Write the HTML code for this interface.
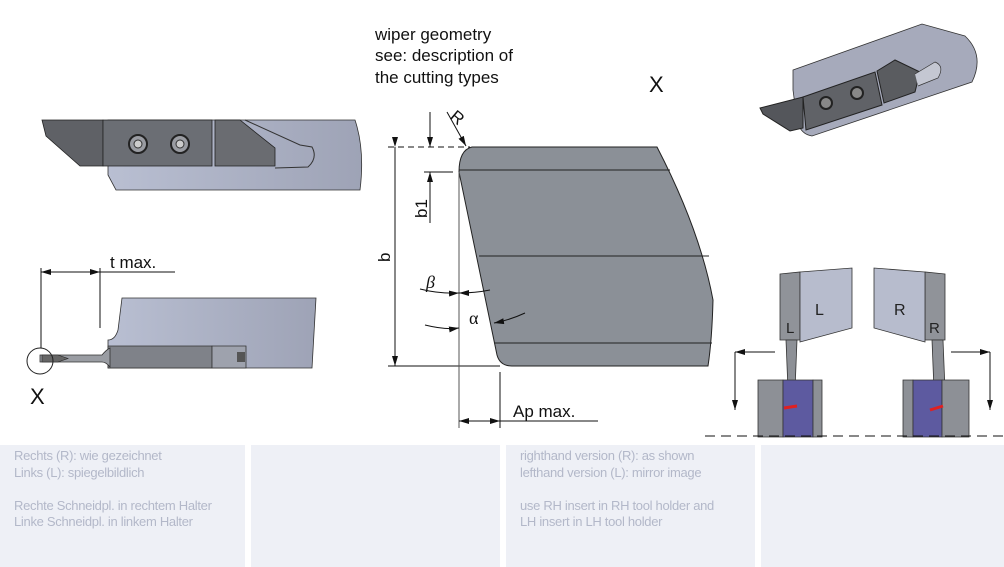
<!DOCTYPE html>
<html><head><meta charset="utf-8"><style>
body{margin:0;width:1004px;height:567px;background:#fff;overflow:hidden;font-family:"Liberation Sans",sans-serif;position:relative}
.p{position:absolute;top:445px;height:122px;background:#eef0f6;color:#b3b8c9;font-size:13px;line-height:16.5px;padding:3px 0 0 14px;box-sizing:border-box;letter-spacing:-0.3px}
svg{position:absolute;left:0;top:0}
</style></head><body>
<svg width="1004" height="567" viewBox="0 0 1004 567" font-family="Liberation Sans, sans-serif">
<defs>
<marker id="a" markerWidth="10" markerHeight="6" refX="10" refY="3" orient="auto" markerUnits="userSpaceOnUse"><path d="M0,0L10,3L0,6z" fill="#111"/></marker>
<linearGradient id="g" x1="0" x2="1"><stop offset="0" stop-color="#b9bfd2"/><stop offset="1" stop-color="#9ea3b6"/></linearGradient>
</defs>
<text x="375" y="40" font-size="17" fill="#111">wiper geometry</text>
<text x="375" y="61" font-size="17" fill="#111">see: description of</text>
<text x="375" y="83" font-size="17" fill="#111">the cutting types</text>
<text x="649" y="92" font-size="22" fill="#111">X</text>

<!-- main insert -->
<path d="M472,147 L657,147 Q700,230 713,300 Q712,340 708,366 L512,366 Q500,366 497,355 L459,172 Q459,150 472,147 Z" fill="#8b9097" stroke="#222" stroke-width="1"/>
<line x1="459" y1="170" x2="670" y2="170" stroke="#222"/>
<line x1="479" y1="256" x2="709" y2="256" stroke="#222"/>
<line x1="494" y1="343" x2="712" y2="343" stroke="#222"/>
<g stroke="#111" stroke-width="1" fill="none">
<line x1="388" y1="147" x2="470" y2="147" stroke-dasharray="6,4"/>
<line x1="388" y1="366" x2="500" y2="366"/>
<line x1="395" y1="147" x2="395" y2="366" marker-start="url(#a)" marker-end="url(#a)" />
<line x1="430" y1="112" x2="430" y2="147" marker-end="url(#a)"/>
<line x1="430" y1="223" x2="430" y2="172" marker-end="url(#a)"/>
<line x1="424" y1="172" x2="453" y2="172"/>
<line x1="447" y1="112" x2="466" y2="146" marker-end="url(#a)"/>
<line x1="459" y1="172" x2="459" y2="428" stroke="#555"/>
<line x1="500" y1="372" x2="500" y2="428"/>
<line x1="480" y1="421" x2="459" y2="421" marker-end="url(#a)"/>
<line x1="480" y1="421" x2="500" y2="421" marker-end="url(#a)"/>
<line x1="500" y1="421" x2="598" y2="421"/>
<path d="M420,289 Q440,294 459,293" marker-end="url(#a)"/>
<path d="M490,290 Q475,293 459,293" marker-end="url(#a)"/>
<path d="M425,325 Q445,330 459,328" marker-end="url(#a)"/>
<path d="M525,313 Q510,320 494,323" marker-end="url(#a)"/>
</g>
<text font-size="17" fill="#111" transform="translate(390,262) rotate(-90)">b</text>
<text font-size="17" fill="#111" transform="translate(427,218) rotate(-90)">b1</text>
<text font-size="17" fill="#111" transform="translate(449,118) rotate(40)">R</text>
<text x="426" y="288" font-size="18" font-style="italic" fill="#111" font-family="Liberation Serif,serif">β</text>
<text x="469" y="324" font-size="18" fill="#111" font-family="Liberation Serif,serif">α</text>
<text x="513" y="417" font-size="17" fill="#111">Ap max.</text>

<!-- top left tool -->
<path d="M108,120 L355,120 Q365,150 360,190 L116,190 L108,175 Z" fill="url(#g)" stroke="#333" stroke-width="0.8"/>
<path d="M42,120 L103,120 L103,166 L80,166 L46,136 Z" fill="#5f6166" stroke="#222" stroke-width="0.8"/>
<path d="M103,120 L212,120 L212,166 L103,166 Z" fill="#6b6e74" stroke="#222" stroke-width="0.8"/>
<path d="M215,120 L240,120 L275,148 L275,166 L215,166 Z" fill="#6a6c71" stroke="#222" stroke-width="0.8"/>
<path d="M245,120 L300,145 L312,147 Q318,158 308,167 L275,168" fill="none" stroke="#333"/>
<circle cx="138" cy="144" r="9" fill="#9a9ca2" stroke="#222" stroke-width="2"/>
<circle cx="138" cy="144" r="4" fill="#ccc" stroke="#333"/>
<circle cx="180" cy="144" r="9" fill="#9a9ca2" stroke="#222" stroke-width="2"/>
<circle cx="180" cy="144" r="4" fill="#ccc" stroke="#333"/>
<!-- bottom left tool -->
<path d="M122,298 L316,298 L312,368 L108,368 L108,340 Q115,340 118,330 Z" fill="url(#g)" stroke="#333" stroke-width="0.8"/>
<path d="M108,346 L212,346 L212,368 L108,368 Z" fill="#7f8289" stroke="#333" stroke-width="0.8"/>
<path d="M212,346 L246,346 L246,368 L212,368 Z" fill="#9ea2ad" stroke="#333" stroke-width="0.8"/>
<rect x="237" y="352" width="8" height="10" fill="#555"/>
<path d="M40,355 L102,355 Q106,350 110,348 L110,367 Q106,362 102,362 L40,362 Z" fill="#9a9da3" stroke="#333" stroke-width="0.8"/>
<path d="M42,355 L58,355 L68,358.5 L58,362 L42,362 Z" fill="#666" stroke="#222" stroke-width="0.6"/>
<circle cx="40" cy="361" r="13" fill="none" stroke="#222"/>
<text x="30" y="404" font-size="22" fill="#111">X</text>
<g stroke="#111" fill="none">
<line x1="41" y1="268" x2="41" y2="348"/>
<line x1="100" y1="268" x2="100" y2="330" stroke-dasharray="60,4,8"/>
<line x1="70" y1="272" x2="41" y2="272" marker-end="url(#a)"/>
<line x1="70" y1="272" x2="100" y2="272" marker-end="url(#a)"/>
<line x1="100" y1="272" x2="175" y2="272"/>
</g>
<text x="110" y="268" font-size="17" fill="#111">t max.</text>

<!-- top right iso tool -->
<path d="M793,70 L922,24 L965,36 Q985,55 972,82 L812,136 Q800,134 797,120 L793,90 Z" fill="#a6aabb" stroke="#333" stroke-width="0.8"/>
<path d="M760,108 L803,97 L803,128 L790,131 L763,114 Z" fill="#54565b" stroke="#222"/>
<path d="M803,97 L875,72 L882,105 L806,130 Z" fill="#606267" stroke="#222"/>
<path d="M877,71 L895,60 L920,72 L915,92 L884,103 Z" fill="#5a5c60" stroke="#222"/>
<path d="M915,74 L935,62 Q945,66 938,78 L918,86" fill="#c4c7d2" stroke="#333" stroke-width="0.7"/>
<circle cx="826" cy="103" r="6" fill="#888" stroke="#222" stroke-width="2"/>
<circle cx="857" cy="93" r="6" fill="#888" stroke="#222" stroke-width="2"/>

<!-- bottom right L/R -->
<g stroke="#333" stroke-width="0.8">
<path d="M780,274 L800,272 L800,340 L780,340 Z" fill="#909399"/>
<path d="M800,272 L852,268 L852,328 L800,342 Z" fill="#b7bccd"/>
<path d="M786,340 L797,340 L795,390 L788,390 Z" fill="#8d9096"/>
<path d="M758,380 L783,380 L783,437 L758,437 Z" fill="#8d9096"/>
<path d="M783,380 L813,380 L813,437 L783,437 Z" fill="#5d5aa0"/>
<path d="M813,380 L822,380 L822,437 L813,437 Z" fill="#8d9096"/>
<path d="M945,274 L925,272 L925,340 L945,340 Z" fill="#909399"/>
<path d="M925,272 L874,268 L874,328 L925,342 Z" fill="#b7bccd"/>
<path d="M932,340 L943,340 L945,390 L934,390 Z" fill="#8d9096"/>
<path d="M903,380 L913,380 L913,437 L903,437 Z" fill="#8d9096"/>
<path d="M913,380 L942,380 L942,437 L913,437 Z" fill="#5d5aa0"/>
<path d="M942,380 L969,380 L969,437 L942,437 Z" fill="#8d9096"/>
</g>
<path d="M784,408 L797,406" stroke="#e02020" stroke-width="3"/>
<path d="M930,410 L943,406" stroke="#e02020" stroke-width="3"/>
<text x="786" y="333" font-size="15" fill="#222">L</text>
<text x="815" y="315" font-size="16" fill="#222">L</text>
<text x="894" y="315" font-size="16" fill="#222">R</text>
<text x="929" y="333" font-size="15" fill="#222">R</text>
<g stroke="#111" fill="none">
<line x1="775" y1="352" x2="735" y2="352" marker-end="url(#a)"/>
<line x1="735" y1="352" x2="735" y2="410" marker-end="url(#a)"/>
<line x1="951" y1="352" x2="990" y2="352" marker-end="url(#a)"/>
<line x1="990" y1="352" x2="990" y2="410" marker-end="url(#a)"/>
<line x1="705" y1="436" x2="1004" y2="436" stroke-dasharray="10,6"/>
</g>
</svg>
<div class="p" style="left:0;width:245px">Rechts (R): wie gezeichnet<br>Links (L): spiegelbildlich<br><br>Rechte Schneidpl. in rechtem Halter<br>Linke Schneidpl. in linkem Halter</div>
<div class="p" style="left:251px;width:249px"></div>
<div class="p" style="left:506px;width:249px">righthand version (R): as shown<br>lefthand version (L): mirror image<br><br>use RH insert in RH tool holder and<br>LH insert in LH tool holder</div>
<div class="p" style="left:761px;width:243px"></div>
</body></html>
